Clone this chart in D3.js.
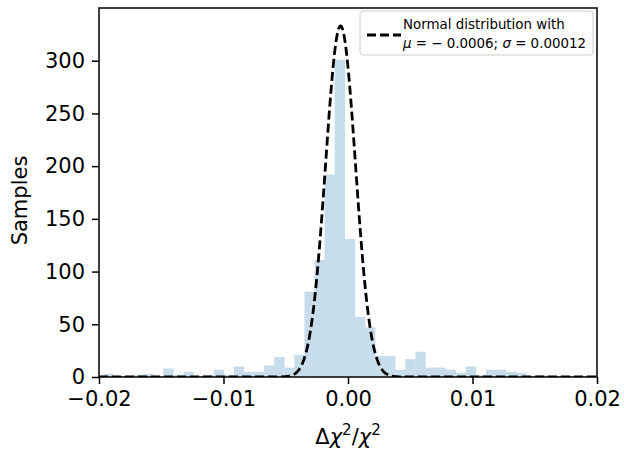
<!DOCTYPE html>
<html>
<head>
<meta charset="utf-8">
<script src="https://cdn.jsdelivr.net/npm/d3@7"></script>
<style>
  body { margin: 0; background: #fff; }
  svg text { font-family: "DejaVu Sans", sans-serif; }
  .axis text { font-size: 21px; fill: #000; font-family: "DejaVu Sans", sans-serif; }
  .axis path, .axis line { stroke: #000; stroke-width: 1.5; }
</style>
</head>
<body>
<script>
//Width and height
var w = 624;
var h = 456;
var margin = { top: 8, right: 27, bottom: 79, left: 99 };

// histogram: left edge of first bin, bin width, counts per bin
var binStart = -0.0197;
var binWidth = 0.00081;
var counts = [3, 1, 1, 2, 3, 1, 8, 2, 5, 1, 2, 7, 2, 10, 5, 5, 11, 19, 9,
              21, 81, 111, 192, 301, 131, 57, 47, 20, 20, 7, 17, 24, 9, 9,
              7, 4, 10, 2, 7, 7, 5, 4, 1, 2, 1, 1, 1, 1, 1];

// normal curve from the legend
var mu = -0.0006;
var sigma = 0.0012;
var peak = 333;

var xTicks = [-0.02, -0.01, 0.00, 0.01, 0.02];
var yTicks = [0, 50, 100, 150, 200, 250, 300];

var bins = counts.map(function(c, i) {
  return { x0: binStart + i * binWidth, x1: binStart + (i + 1) * binWidth, n: c };
});

var xScale = d3.scaleLinear().domain([-0.02, 0.02]).range([margin.left, w - margin.right]);
var yScale = d3.scaleLinear().domain([0, 350]).range([h - margin.bottom, margin.top]);

var svg = d3.select("body").append("svg")
            .attr("width", w)
            .attr("height", h);

svg.append("clipPath").attr("id", "clip")
   .append("rect")
   .attr("x", margin.left).attr("y", margin.top)
   .attr("width", w - margin.left - margin.right)
   .attr("height", h - margin.top - margin.bottom);

// bars
svg.append("g").attr("clip-path", "url(#clip)")
   .selectAll("rect")
   .data(bins)
   .enter().append("rect")
   .attr("x", function(d) { return xScale(d.x0); })
   .attr("width", function(d) { return xScale(d.x1) - xScale(d.x0) + 0.3; })
   .attr("y", function(d) { return yScale(d.n); })
   .attr("height", function(d) { return yScale(0) - yScale(d.n); })
   .attr("fill", "#c7ddec");

// normal curve
var curveX = d3.range(-0.02, 0.02 + 1e-9, 0.00005);
var line_generator = d3.line()
                       .x(function(d) { return xScale(d); })
                       .y(function(d) { return yScale(peak * Math.exp(-0.5 * Math.pow((d - mu) / sigma, 2))); });

svg.append("path")
   .datum(curveX)
   .attr("clip-path", "url(#clip)")
   .attr("d", line_generator)
   .attr("fill", "none")
   .attr("stroke", "#000")
   .attr("stroke-width", 2.8)
   .attr("stroke-dasharray", "9,4");

// axes
var xAxis = d3.axisBottom(xScale).tickValues(xTicks).tickSize(7).tickPadding(7)
              .tickFormat(function(d) { return d3.format(".2f")(d).replace("-", "\u2212"); });
var yAxis = d3.axisLeft(yScale).tickValues(yTicks).tickSize(7).tickPadding(7);

svg.append("g").attr("class", "axis")
   .attr("transform", "translate(0," + (h - margin.bottom) + ")")
   .call(xAxis)
   .call(function(g) { g.select(".domain").remove(); g.attr("font-family", null); });

svg.append("g").attr("class", "axis")
   .attr("transform", "translate(" + margin.left + ",0)")
   .call(yAxis)
   .call(function(g) { g.select(".domain").remove(); g.attr("font-family", null); });

// spines
svg.append("rect")
   .attr("x", margin.left).attr("y", margin.top)
   .attr("width", w - margin.left - margin.right)
   .attr("height", h - margin.top - margin.bottom)
   .attr("fill", "none").attr("stroke", "#000").attr("stroke-width", 1.5);

// axis labels
var xl = svg.append("text")
   .attr("x", (margin.left + w - margin.right) / 2)
   .attr("y", 444)
   .attr("text-anchor", "middle")
   .attr("font-size", 21);
xl.append("tspan").text("\u0394");
xl.append("tspan").attr("font-style", "italic").text("\u03c7");
xl.append("tspan").attr("font-size", 15).attr("dy", -9).text("2");
xl.append("tspan").attr("dy", 9).text("/");
xl.append("tspan").attr("font-style", "italic").text("\u03c7");
xl.append("tspan").attr("font-size", 15).attr("dy", -9).text("2");

svg.append("text")
   .attr("transform", "translate(27," + ((margin.top + h - margin.bottom) / 2 + 8) + ") rotate(-90)")
   .attr("text-anchor", "middle")
   .attr("font-size", 21)
   .text("Samples");

// legend
var lg = svg.append("g");
lg.append("rect")
  .attr("x", 360).attr("y", 11).attr("width", 233).attr("height", 44)
  .attr("rx", 3)
  .attr("fill", "#fff").attr("fill-opacity", 0.8)
  .attr("stroke", "#ccc").attr("stroke-width", 1);
lg.append("line")
  .attr("x1", 367).attr("x2", 401).attr("y1", 35).attr("y2", 35)
  .attr("stroke", "#000").attr("stroke-width", 2.8).attr("stroke-dasharray", "9,4");
lg.append("text").attr("x", 403).attr("y", 29).attr("font-size", 13.4)
  .text("Normal distribution with");
var l2 = lg.append("text").attr("x", 403).attr("y", 48).attr("font-size", 13.4);
l2.append("tspan").attr("font-style", "italic").text("\u03bc");
l2.append("tspan").text(" = \u2212 0.0006; ");
l2.append("tspan").attr("font-style", "italic").text("\u03c3");
l2.append("tspan").text(" = 0.00012");
</script>
</body>
</html>
